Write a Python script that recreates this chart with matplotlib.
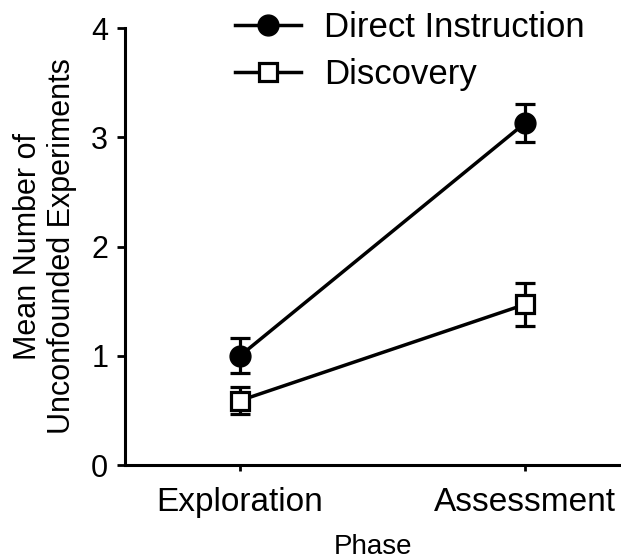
import matplotlib
matplotlib.use("Agg")
import matplotlib.pyplot as plt

phases = ["Exploration", "Assessment"]
direct_mean = [1.00, 3.13]
direct_err = [0.16, 0.17]
discovery_mean = [0.59, 1.47]
discovery_err = [0.12, 0.20]

plt.rcParams["font.family"] = ["Liberation Sans", "DejaVu Sans"]

fig = plt.figure(figsize=(6.21, 5.6), dpi=100)
ax = fig.add_axes([0.2013, 0.1696, 0.7987, 0.7804])

x = list(range(len(phases)))
ax.errorbar(x, direct_mean, yerr=direct_err, color="black", lw=2.5,
            marker="o", ms=15, mfc="black", mec="black", capsize=7,
            elinewidth=2.3, capthick=2.3, label="Direct Instruction", zorder=3)
ax.errorbar(x, discovery_mean, yerr=discovery_err, color="black", lw=2.5,
            marker="s", ms=13, mfc="white", mec="black", mew=2.3, capsize=7,
            elinewidth=2.3, capthick=2.3, label="Discovery", zorder=3)

ax.set_xlim(-0.404, 1.337)
ax.set_ylim(0, 4)
ax.set_yticks([0, 1, 2, 3, 4])
ax.set_xticks(x)
ax.set_xticklabels(phases, fontsize=24)
ax.tick_params(axis="y", labelsize=22, length=6, width=2, direction="out", pad=6)
ax.tick_params(axis="x", length=4, width=2, direction="out", pad=12)
for s in ("top", "right"):
    ax.spines[s].set_visible(False)
for s in ("left", "bottom"):
    ax.spines[s].set_linewidth(2.2)
ax.spines["left"].set_bounds(0, 4)

ax.set_ylabel("Mean Number of\nUnconfounded Experiments", fontsize=22,
              labelpad=10, linespacing=1.2)
ax.set_xlabel("Phase", fontsize=20, labelpad=11)

handles, labels = ax.get_legend_handles_labels()
handles = [h[0] for h in handles]
fig.legend(handles, labels, loc="upper left",
           bbox_to_anchor=(232 / 621, (560 - 8) / 560),
           frameon=False, fontsize=25, handlelength=1.9, handletextpad=0.65,
           labelspacing=0.4, borderpad=0.1, borderaxespad=0)

fig.savefig("out.png", dpi=100)
